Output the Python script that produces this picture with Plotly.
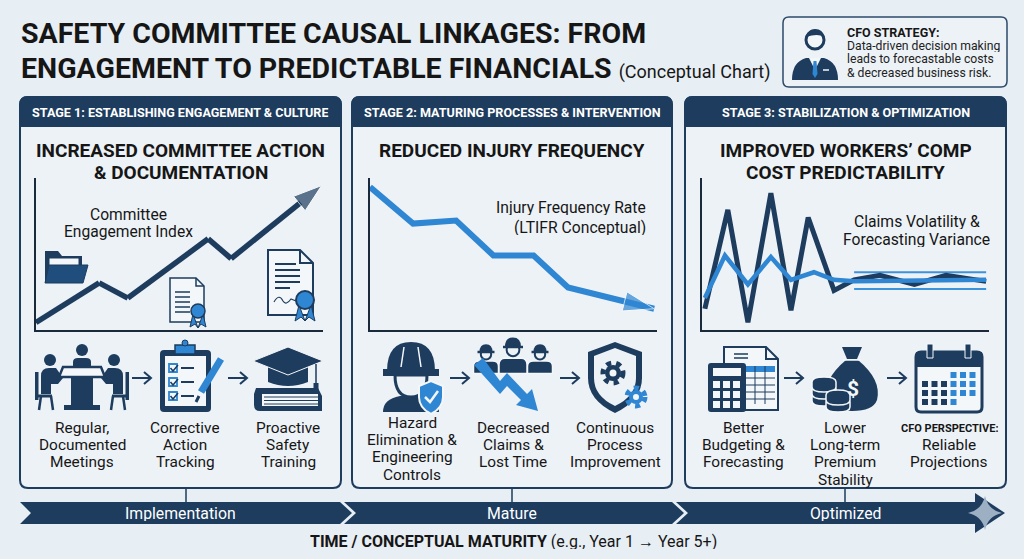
import plotly.graph_objects as go

W, H = 1024, 559
NAVY = "#1d3c5e"
BLUE = "#2f86d3"
BG = "#e7eef4"
PANEL_BG = "#edf2f7"
INK = "#161616"
FONT = "Roboto"

# ─── data (conceptual index values, 0-100 scale) ─────────────────────────────
eng_x = [0.0, 2.2, 3.2, 6.0, 6.8, 9.95]
eng_y = [5, 31, 21, 60, 47, 95]

ltifr_x = [0.0, 1.5, 3.0, 4.3, 5.7, 6.9, 9.9]
ltifr_y = [94, 70, 72, 49, 49, 28, 14]

vol_x = [0.1, 0.9, 1.6, 2.4, 3.1, 3.7, 4.6, 5.3, 6.2, 7.4, 8.5, 9.9]
vol_y = [14, 79, 5, 90, 13, 74, 26, 33, 36, 30, 36, 32]

fc_x = [0.1, 0.8, 1.6, 2.4, 3.1, 3.9, 4.6, 5.3, 9.9]
fc_y = [21, 49, 30, 48, 33, 38, 33, 32, 33]

band_x = [5.3, 9.9]
band_hi = [38, 38]
band_lo = [27, 27]

stage_heads = ["STAGE 1: ESTABLISHING ENGAGEMENT & CULTURE",
               "STAGE 2: MATURING PROCESSES & INTERVENTION",
               "STAGE 3: STABILIZATION & OPTIMIZATION"]
stage_titles = [["INCREASED COMMITTEE ACTION", "& DOCUMENTATION"],
                ["REDUCED INJURY FREQUENCY"],
                ["IMPROVED WORKERS’ COMP", "COST PREDICTABILITY"]]
phases = ["Implementation", "Mature", "Optimized"]

shapes = []
annos = []


# ─── helpers (pixel coordinates on a hidden full-canvas axis) ────────────────
def rect(x0, y0, x1, y1, fill=NAVY, line=None, lw=0, layer="above"):
    shapes.append(dict(type="rect", xref="x", yref="y", x0=x0, y0=y0, x1=x1, y1=y1,
                       fillcolor=fill, line=dict(color=line or fill, width=lw), layer=layer))


def circ(cx, cy, r, fill=NAVY, line=None, lw=0, dash=None):
    shapes.append(dict(type="circle", xref="x", yref="y", x0=cx - r, y0=cy - r,
                       x1=cx + r, y1=cy + r, fillcolor=fill,
                       line=dict(color=line or fill, width=lw, dash=dash)))


def path(d, fill=NAVY, line=None, lw=0, layer="above"):
    shapes.append(dict(type="path", xref="x", yref="y", path=d, fillcolor=fill,
                       line=dict(color=line or fill, width=lw), layer=layer))


def seg(x0, y0, x1, y1, color=NAVY, lw=2):
    shapes.append(dict(type="line", xref="x", yref="y", x0=x0, y0=y0, x1=x1, y1=y1,
                       line=dict(color=color, width=lw)))


def rrect(x0, y0, x1, y1, r):
    return (f"M{x0+r},{y0} L{x1-r},{y0} Q{x1},{y0} {x1},{y0+r} L{x1},{y1-r} "
            f"Q{x1},{y1} {x1-r},{y1} L{x0+r},{y1} Q{x0},{y1} {x0},{y1-r} "
            f"L{x0},{y0+r} Q{x0},{y0} {x0+r},{y0} Z")


def text(x, y, s, size=15, color=INK, anchor="center", family=FONT):
    annos.append(dict(x=x, y=y, xref="x", yref="y", text=s, showarrow=False,
                      xanchor=anchor, yanchor="middle", height=round(size * 1.02),
                      align=anchor if anchor != "center" else "center",
                      font=dict(size=size, color=color, family=family)))


def lines(x, y0, rows, size=15.4, step=17.2, color=INK):
    for i, r in enumerate(rows):
        text(x, y0 + i * step, r, size=size, color=color)


# ─── title + CFO box ─────────────────────────────────────────────────────────
text(19, 33, "<b>SAFETY COMMITTEE CAUSAL LINKAGES: FROM</b>", size=28.5, anchor="left")
text(19, 68, "<b>ENGAGEMENT TO PREDICTABLE FINANCIALS</b> "
     "<span style='font-size:18px'>(Conceptual Chart)</span>", size=28.5, anchor="left")

path(rrect(783, 17, 1007, 87, 6), fill="#edf2f7", line="#2c4b6b", lw=1.5)
circ(815, 40, 9, fill="#f4f7fa", line=NAVY, lw=3)
path("M806,37 Q808,29 815,29 Q823,29 824,37 Q818,33 806,37 Z")
path("M792,80 Q792,62 806,58 L824,58 Q838,62 838,80 Z")
path("M809,58 L815,70 L821,58 Z", fill="#f4f7fa")
path("M813.5,61 L816.5,61 L817.5,74 L815,78 L812.5,74 Z", fill=BLUE)
seg(823, 70, 829, 70, color="#f4f7fa", lw=1.5)
text(845, 32, "<b>CFO STRATEGY:</b>", size=12.5, anchor="left")
for i, s in enumerate(["Data-driven decision making", "leads to forecastable costs",
                       "& decreased business risk."]):
    text(845, 46 + i * 13.3, s, size=12.2, color="#222", anchor="left")

# ─── panels ──────────────────────────────────────────────────────────────────
panels = [(20, 341), (352, 672), (685, 1006)]
for (x0, x1), head, title in zip(panels, stage_heads, stage_titles):
    path(rrect(x0, 97, x1, 488, 8), fill=PANEL_BG, line=NAVY, lw=2, layer="below")
    path(f"M{x0},126 L{x0},105 Q{x0},97 {x0+8},97 L{x1-8},97 Q{x1},97 {x1},105 L{x1},126 Z",
         fill=NAVY, line=NAVY, lw=2, layer="below")
    cx = (x0 + x1) / 2
    text(cx, 112, f"<b>{head}</b>", size=12.6, color="white")
    for i, t in enumerate(title):
        text(cx, 150 + 22 * i, f"<b>{t}</b>", size=19)

# chart labels
text(128, 215, "Committee", size=15.6)
text(128, 232, "Engagement Index", size=15.6)
text(648, 207, "Injury Frequency Rate", size=15.7, anchor="right")
text(648, 227, "(LTIFR Conceptual)", size=15.7, anchor="right")
text(917, 221, "Claims Volatility &", size=15.7)
text(916, 239, "Forecasting Variance", size=15.7)

# ─── chart icons (panel 1) ───────────────────────────────────────────────────
path("M45,251 L58,251 L62,256 L82,256 L82,282 L45,282 Z")
rect(49, 258, 79, 266, fill="#f4f7fa", line=NAVY, lw=1)
path("M49,265 L88,265 L83,283 L45,283 Z", fill="#1f4d7c", line=NAVY, lw=1)

path("M170,278 L196,278 L204,286 L204,322 L170,322 Z", fill="#f4f7fa", line=NAVY, lw=1.5)
path("M196,278 L196,286 L204,286", fill="rgba(0,0,0,0)", line=NAVY, lw=1.5)
for yy in (292, 297, 302, 307, 312):
    seg(175, yy, 190, yy, lw=1.5)
path("M193,314 L190,327 L195,324 L198,328 Z", fill=BLUE, line=NAVY, lw=1)
path("M203,314 L206,327 L201,324 L198,328 Z", fill=BLUE, line=NAVY, lw=1)
circ(198, 311, 7, fill=BLUE, line=NAVY, lw=1.5)

path("M268,250 L300,250 L313,263 L313,315 L268,315 Z", fill="#f4f7fa", line=NAVY, lw=2)
path("M300,250 L300,263 L313,263", fill="rgba(0,0,0,0)", line=NAVY, lw=2)
for yy, xe in ((264, 296), (270, 300), (276, 300), (282, 300), (288, 290)):
    seg(275, yy, xe, yy, lw=2)
path("M274,302 Q279,293 283,301 Q286,306 291,299 L296,301", fill="rgba(0,0,0,0)", line=NAVY, lw=1.2)
path("M299,305 L295,321 L301,317 L305,321 Z", fill=BLUE, line=NAVY, lw=1)
path("M311,305 L315,321 L309,317 L305,321 Z", fill=BLUE, line=NAVY, lw=1)
circ(305, 300, 9, fill=BLUE, line=NAVY, lw=2)

# ─── bottom icons ────────────────────────────────────────────────────────────
# meeting
circ(82, 350, 6)
path("M73,368 L73,362 Q73,358 78,358 L86,358 Q91,358 91,362 L91,368 Z")
circ(50, 360, 6)
circ(114, 360, 6)
path("M41,394 L41,376 Q41,368 49,368 L56,368 L63,378 L58,384 L51,384 L51,394 Z")
path("M123,394 L123,376 Q123,368 115,368 L108,368 L101,378 L106,384 L113,384 L113,394 Z")
rect(35, 372, 38.5, 400)
rect(125.5, 372, 129, 400)
seg(38, 396, 52, 396, lw=3)
seg(112, 396, 126, 396, lw=3)
seg(41, 396, 39, 410, lw=2.5)
seg(51, 396, 53, 410, lw=2.5)
seg(113, 396, 111, 410, lw=2.5)
seg(123, 396, 125, 410, lw=2.5)
rect(71, 376, 93, 408)
rect(64, 405, 100, 410)
path("M63,367 L101,367 L105,377 L59,377 Z", fill="#f4f7fa", line=NAVY, lw=2.5)

# clipboard
path(rrect(160, 350, 211, 412, 4))
rect(165, 356, 206, 406, fill="#f4f7fa")
rect(175, 345, 195, 354, fill=BLUE, line=NAVY, lw=1.5)
circ(185, 343, 3, fill=BLUE, line=NAVY, lw=1)
for yy in (364, 378, 392):
    rect(169, yy, 177, yy + 8, fill="#f4f7fa", line=BLUE, lw=1.8)
    path(f"M170.5,{yy+4} L173,{yy+7} L178,{yy+1}", fill="rgba(0,0,0,0)", line=NAVY, lw=1.5)
    seg(181, yy + 4, 194, yy + 4, lw=2)
seg(201, 392, 221, 359, color=BLUE, lw=7)
seg(199, 396, 196, 402, lw=3)

# graduation cap + book
path("M256,388 L318,388 L322,396 L322,411 L260,411 Q254,411 254,405 L254,394 Z")
rect(262, 394, 318, 406, fill="#f4f7fa")
for yy in (397, 400.5, 404):
    seg(264, yy, 318, yy, lw=1)
path("M268,366 L268,382 Q288,390 308,382 L308,366 Z")
path("M253,361 L288,347 L323,361 L288,375 Z", line="#f4f7fa", lw=1)
seg(316, 364, 316, 384, lw=1.5)
rect(313.5, 383, 318.5, 393)

# hard hat worker
path("M383,412 Q383,399 400,396 L422,396 Q439,399 439,412 Z")
path("M395,375 Q395,397 411,397 Q427,397 427,375 Z", fill=PANEL_BG, line=NAVY, lw=3)
path("M387,371 Q387,342 411,342 Q435,342 435,371 Z")
rect(383, 369, 439, 376)
seg(404, 347, 401, 367, color="#f4f7fa", lw=1.5)
seg(418, 347, 421, 367, color="#f4f7fa", lw=1.5)
path("M419,386 L431,381 L443,386 L443,397 Q443,408 431,414 Q419,408 419,397 Z",
     fill=BLUE, line="#f4f7fa", lw=2)
path("M425,397 L430,402 L438,391", fill="rgba(0,0,0,0)", line="#f4f7fa", lw=2.5)

# group + falling arrow
for hx, hy, r in ((486, 352, 6.5), (540, 352, 6.5), (513, 347, 8)):
    path(f"M{hx-r-6},{hy+r*3.3} L{hx-r-6},{hy+r*2.2} Q{hx-r-6},{hy+r*1.4} {hx-r},{hy+r*1.4} "
         f"L{hx+r},{hy+r*1.4} Q{hx+r+6},{hy+r*1.4} {hx+r+6},{hy+r*2.2} L{hx+r+6},{hy+r*3.3} Z",
         line="#f4f7fa", lw=1.5)
    circ(hx, hy + r * 0.35, r * 0.8, fill=PANEL_BG, line=NAVY, lw=2)
    path(f"M{hx-r},{hy} Q{hx-r},{hy-r*1.2} {hx},{hy-r*1.2} Q{hx+r},{hy-r*1.2} {hx+r},{hy} Z")
    seg(hx - r - 2, hy, hx + r + 2, hy, lw=2.5)
path("M474,365 L483,358 L500,381 L507,373 L527,394 L532,389 L538,411 L516,405 L521,400 "
     "L507,386 L500,394 Z", fill=BLUE)

# shield + gears
path("M588,352 L615,342 L642,352 L642,378 Q642,400 615,413 Q588,400 588,378 Z")
path("M594,356 L615,348 L636,356 L636,378 Q636,396 615,406 Q594,396 594,378 Z", fill=PANEL_BG)
circ(613, 373, 10, fill="rgba(0,0,0,0)", line=NAVY, lw=5, dash="dot")
circ(613, 373, 8, fill=NAVY)
circ(613, 373, 3.5, fill="#f4f7fa")
circ(636, 397, 9, fill="rgba(0,0,0,0)", line=BLUE, lw=5, dash="dot")
circ(636, 397, 7, fill=BLUE)
circ(636, 397, 3, fill="#f4f7fa")

# calculator + spreadsheet
path("M724,347 L766,347 L778,359 L778,410 L724,410 Z", fill="#f4f7fa", line=NAVY, lw=2)
path("M766,347 L766,359 L778,359", fill="rgba(0,0,0,0)", line=NAVY, lw=2)
seg(734, 354, 748, 354, lw=1.5)
seg(734, 358, 748, 358, lw=1.5)
rect(745, 366, 775, 372, fill=BLUE)
for yy in (378, 385, 392, 399):
    seg(745, yy, 775, yy, lw=1)
for xx in (755, 765):
    seg(xx, 366, xx, 404, lw=1)
path(rrect(708, 363, 746, 412, 3))
rect(713, 368, 741, 376, fill="#f4f7fa")
for ky in (381, 391, 401):
    for kx in (713, 723, 733):
        rect(kx, ky, kx + 7, ky + 7, fill="#f4f7fa")

# money bag + coins
path("M846,360 Q822,380 827,400 Q831,411 852,411 Q873,411 877,400 Q882,380 858,360 Z")
path("M842,347 L862,347 L857,359 L847,359 Z")
seg(843, 360, 861, 360, color="#f4f7fa", lw=1.5)
text(853, 388, "<b>$</b>", size=21, color="#f4f7fa")
for cy in (396, 389, 382):
    path(f"M812,{cy} Q812,{cy-5} 824,{cy-5} Q836,{cy-5} 836,{cy} L836,{cy+5} Q836,{cy+10} 824,{cy+10} "
         f"Q812,{cy+10} 812,{cy+5} Z", line="#f4f7fa", lw=1.5)
for cy in (402, 395):
    path(f"M826,{cy} Q826,{cy-5} 838,{cy-5} Q850,{cy-5} 850,{cy} L850,{cy+5} Q850,{cy+10} 838,{cy+10} "
         f"Q826,{cy+10} 826,{cy+5} Z", line="#f4f7fa", lw=1.5)

# calendar
path(rrect(916, 352, 982, 412, 5), fill="#f4f7fa", line=NAVY, lw=3)
rect(916, 352, 982, 367)
rect(927, 344, 933, 358, line="#f4f7fa", lw=1)
rect(965, 344, 971, 358, line="#f4f7fa", lw=1)
for r in range(4):
    for c in range(6):
        if (r == 0 and c < 3) or (r == 3 and c > 3):
            continue
        rect(922 + c * 9.5, 372 + r * 9, 928 + c * 9.5, 378 + r * 9,
             fill=BLUE if c >= 3 else NAVY)

# little arrows between icons
for ax in (142, 238, 460, 570, 794, 897):
    seg(ax - 10, 378, ax + 9, 378, lw=2)
    path(f"M{ax+2},{372} L{ax+9},{378} L{ax+2},{384}", fill="rgba(0,0,0,0)", line=NAVY, lw=2)

# icon captions
lines(82, 428, ["Regular,", "Documented", "Meetings"])
lines(185, 428, ["Corrective", "Action", "Tracking"])
lines(288, 428, ["Proactive", "Safety", "Training"])
lines(412, 423, ["Hazard", "Elimination &", "Engineering", "Controls"])
lines(513, 428, ["Decreased", "Claims &", "Lost Time"])
lines(615, 428, ["Continuous", "Process", "Improvement"])
lines(743, 428, ["Better", "Budgeting &", "Forecasting"])
lines(845, 428, ["Lower", "Long-term", "Premium", "Stability"])
text(949, 428, "<b>CFO PERSPECTIVE:</b>", size=11)
lines(949, 445, ["Reliable", "Projections"])

# ─── timeline ────────────────────────────────────────────────────────────────
for xx in (186, 512, 845):
    seg(xx, 488, xx, 502, lw=1.5)
path("M20,502 L340,502 L352,513 L340,524 L20,524 L31,513 Z")
path("M344,502 L672,502 L684,513 L672,524 L344,524 L356,513 Z")
path("M676,502 L975,502 L975,493 L1005,513 L975,533 L975,524 L676,524 L688,513 Z")
path("M985,496 Q988,510 1002,513 Q988,516 985,530 Q982,516 968,513 Q982,510 985,496 Z",
     fill="#9cafc3")
for cx, ph in zip((180, 512, 845), phases):
    text(cx, 513, ph, size=15.8, color="white")
text(513, 541, "<b>TIME / CONCEPTUAL MATURITY</b> (e.g., Year 1 → Year 5+)", size=16)

# ─── figure + chart traces ───────────────────────────────────────────────────
fig = go.Figure()
fig.add_trace(go.Scatter(x=[0], y=[0], mode="markers", marker=dict(opacity=0),
                         hoverinfo="skip", showlegend=False))


def arrow_marks(n, size):
    return dict(symbol=["circle"] * (n - 1) + ["arrow"], size=[0] * (n - 1) + [size],
                angleref="previous")


fig.add_trace(go.Scatter(x=eng_x, y=eng_y, xaxis="x2", yaxis="y2", mode="lines+markers",
                         line=dict(color=NAVY, width=5.5), cliponaxis=False,
                         marker=dict(color=NAVY, **arrow_marks(len(eng_x), 30)),
                         showlegend=False, hoverinfo="skip"))
fig.add_trace(go.Scatter(x=ltifr_x, y=ltifr_y, xaxis="x3", yaxis="y3", mode="lines+markers",
                         line=dict(color=BLUE, width=6), cliponaxis=False,
                         marker=dict(color=BLUE, **arrow_marks(len(ltifr_x), 32)),
                         showlegend=False, hoverinfo="skip"))
for yb in (band_hi, band_lo):
    fig.add_trace(go.Scatter(x=band_x, y=yb, xaxis="x4", yaxis="y4", mode="lines",
                             line=dict(color="#3d92dc", width=2), showlegend=False,
                             hoverinfo="skip"))
fig.add_trace(go.Scatter(x=vol_x, y=vol_y, xaxis="x4", yaxis="y4", mode="lines",
                         line=dict(color=NAVY, width=5), cliponaxis=False,
                         showlegend=False, hoverinfo="skip"))
fig.add_trace(go.Scatter(x=fc_x, y=fc_y, xaxis="x4", yaxis="y4", mode="lines",
                         line=dict(color=BLUE, width=4.5), cliponaxis=False,
                         showlegend=False, hoverinfo="skip"))

hidden = dict(visible=False, fixedrange=True)
chart_ax = dict(range=[0, 10], showline=True, linecolor="#1a2a3a", linewidth=1.5,
                showgrid=False, zeroline=False, showticklabels=False, ticks="",
                fixedrange=True)
chart_ay = dict(range=[0, 100], showline=True, linecolor="#1a2a3a", linewidth=1.5,
                showgrid=False, zeroline=False, showticklabels=False, ticks="",
                fixedrange=True, domain=[1 - 330 / H, 1 - 178 / H])

fig.update_layout(
    width=W, height=H,
    margin=dict(l=0, r=0, t=0, b=0),
    paper_bgcolor=BG, plot_bgcolor="rgba(0,0,0,0)",
    font=dict(family=FONT, color=INK),
    xaxis=dict(range=[0, W], domain=[0, 1], **hidden),
    yaxis=dict(range=[H, 0], domain=[0, 1], **hidden),
    xaxis2=dict(domain=[36 / W, 323 / W], anchor="y2", **chart_ax),
    yaxis2=dict(anchor="x2", **chart_ay),
    xaxis3=dict(domain=[370 / W, 657 / W], anchor="y3", **chart_ax),
    yaxis3=dict(anchor="x3", **chart_ay),
    xaxis4=dict(domain=[702 / W, 989 / W], anchor="y4", **chart_ax),
    yaxis4=dict(anchor="x4", **chart_ay),
    shapes=shapes,
    annotations=annos,
    showlegend=False,
)

fig.write_html("out.html", config={"displayModeBar": False},
               post_script="document.body.style.margin='0';document.body.style.overflow='hidden';")
